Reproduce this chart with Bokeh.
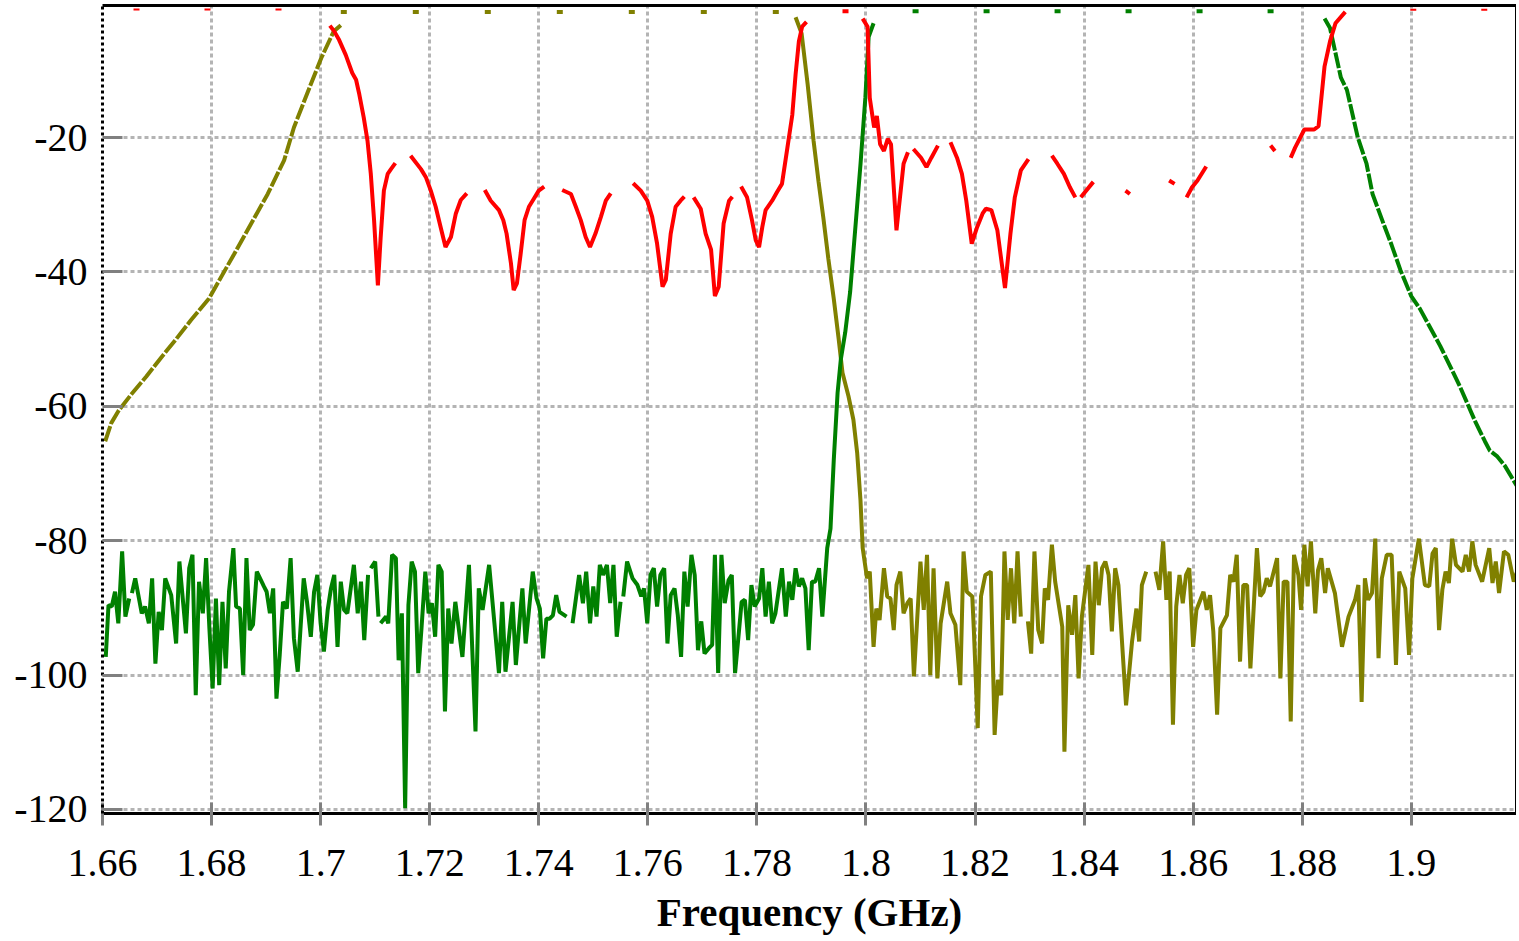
import math
from bokeh.plotting import figure
from bokeh.models import FixedTicker, PrintfTickFormatter, LinearAxis, Range1d
from bokeh.embed import file_html
from bokeh.resources import INLINE

NaN = float("nan")

# ---------------- data (frequency GHz, level dB) ----------------
# S21 (olive): lower skirt rising into its passband
s21_rise = [(1.6605, -65.2), (1.6616, -62.5), (1.6630, -60.6), (1.6652, -58.3), (1.6680, -55.6),
            (1.6707, -52.8), (1.6735, -50.0), (1.6762, -47.2), (1.6795, -44.0), (1.6841, -37.4),
            (1.6903, -28.4), (1.6933, -23.4), (1.6951, -18.5), (1.6977, -13.1), (1.7001, -8.2),
            (1.7024, -4.2), (1.7037, -3.3)]
s21_pass = [(1.7037, -1.3), (1.7871, -1.3)]
s21_stop = [(1.7871, -2.1), (1.7882, -4.5), (1.7893, -12.0), (1.7904, -20.5), (1.7913, -26.5),
            (1.7922, -32.0), (1.7931, -38.0), (1.7941, -44.0), (1.7950, -50.0), (1.7957, -55.0),
            (1.7968, -58.5), (1.7977, -62.0), (1.7984, -67.0), (1.7990, -74.0), (1.7994, -81.1),
            (1.8002, -85.6), (1.8007, -84.6), (1.8014, -95.8), (1.8019, -90.1), (1.8025, -91.8),
            (1.8033, -84.1), (1.8039, -88.3), (1.8045, -88.6), (1.8051, -93.3), (1.8056, -86.6),
            (1.8063, -84.6), (1.8069, -90.8), (1.8076, -89.3), (1.8082, -88.6), (1.8088, -100.2),
            (1.8100, -83.1), (1.8106, -90.3), (1.8112, -82.1), (1.8118, -100.0), (1.8124, -84.1),
            (1.8131, -100.5), (1.8137, -92.3), (1.8149, -86.1), (1.8155, -90.8), (1.8164, -92.5),
            (1.8173, -101.5), (1.8179, -81.6), (1.8185, -87.6), (1.8195, -88.3), (1.8198, -93.5),
            (1.8205, -107.9), (1.8211, -88.3), (1.8219, -85.1), (1.8229, -84.6), (1.8236, -108.9),
            (1.8242, -100.7), (1.8248, -103.0), (1.8254, -81.6), (1.8260, -91.8), (1.8266, -84.1),
            (1.8272, -92.3), (1.8278, -81.6), (1.8284, -91.3), (NaN, NaN), (1.8297, -92.0),
            (1.8303, -96.8), (1.8309, -81.6), (1.8316, -93.3), (1.8323, -95.3), (1.8328, -87.1),
            (1.8334, -88.8), (1.8341, -80.6), (1.8347, -86.1), (1.8360, -92.8), (1.8364, -111.4),
            (1.8371, -89.6), (1.8378, -94.0), (1.8384, -88.1), (1.8390, -100.5), (1.8396, -91.3),
            (1.8408, -83.6), (1.8415, -97.0), (1.8421, -83.1), (1.8427, -89.6), (1.8433, -84.1),
            (1.8439, -83.1), (1.8445, -85.1), (1.8451, -93.5), (1.8457, -84.1), (1.8463, -86.6),
            (1.8477, -104.5), (1.8488, -95.0), (1.8496, -90.1), (1.8501, -95.0), (1.8506, -86.6),
            (1.8514, -84.6), (NaN, NaN), (1.8531, -84.6), (1.8538, -87.3), (1.8545, -80.1),
            (1.8551, -88.8), (1.8557, -84.6), (1.8563, -107.4), (1.8569, -89.8), (1.8575, -85.1),
            (1.8581, -89.3), (1.8587, -85.1), (1.8593, -84.1), (1.8600, -95.8), (1.8606, -90.3),
            (1.8619, -87.6), (1.8625, -90.3), (1.8631, -88.1), (1.8637, -93.5), (1.8644, -105.9),
            (1.8650, -93.0), (1.8662, -91.1), (1.8668, -85.1), (1.8674, -86.1), (1.8680, -82.1),
            (1.8686, -98.0), (1.8692, -86.6), (1.8699, -86.6), (1.8705, -99.0), (1.8717, -81.1),
            (1.8723, -88.3), (1.8729, -87.6), (1.8735, -85.6), (1.8741, -86.8), (1.8754, -82.6),
            (1.8760, -100.5), (1.8766, -86.1), (1.8773, -86.1), (1.8779, -106.9), (1.8785, -82.1),
            (1.8793, -85.1), (1.8798, -90.3), (1.8804, -80.6), (1.8810, -86.8), (1.8816, -80.1),
            (1.8824, -90.8), (1.8829, -84.4), (1.8835, -82.6), (1.8842, -87.8), (1.8847, -84.1),
            (1.8860, -87.8), (1.8873, -95.8), (1.8885, -91.3), (1.8897, -88.8), (1.8903, -86.6),
            (1.8909, -104.0), (1.8915, -85.6), (1.8921, -88.8), (1.8928, -87.8), (1.8934, -79.7),
            (1.8940, -97.5), (1.8946, -85.6), (1.8955, -82.1), (1.8964, -82.1), (1.8972, -98.5),
            (1.8978, -84.6), (1.8989, -87.1), (1.8996, -97.0), (1.9002, -85.6), (1.9014, -79.7),
            (1.9025, -86.6), (1.9033, -86.8), (1.9039, -81.9), (1.9045, -81.1), (1.9051, -93.3),
            (1.9057, -87.3), (1.9063, -84.6), (1.9069, -86.3), (1.9075, -79.7), (1.9082, -83.6),
            (1.9094, -84.6), (1.9100, -82.1), (1.9106, -84.6), (1.9112, -80.1), (1.9118, -83.6),
            (1.9130, -86.1), (1.9143, -81.1), (1.9149, -86.3), (1.9155, -83.1), (1.9161, -87.8),
            (1.9170, -81.6), (1.9178, -82.1), (1.9188, -86.1), (1.9194, -84.6)]

# S31 (green): stopband noise, upper passband, upper skirt
s31_stop = [(1.6606, -97.3), (1.6611, -89.6), (1.6617, -89.8), (1.6623, -87.6), (1.6629, -92.3),
            (1.6636, -81.6), (1.6642, -91.3), (1.6649, -88.6), (NaN, NaN), (1.6654, -87.8),
            (1.6660, -85.6), (1.6672, -90.8), (1.6678, -89.8), (1.6685, -92.3), (1.6691, -85.6),
            (1.6697, -98.3), (1.6703, -90.6), (1.6709, -93.3), (1.6715, -85.6), (1.6726, -88.1),
            (1.6735, -95.3), (1.6741, -83.1), (1.6753, -93.8), (1.6759, -84.1), (1.6765, -82.1),
            (1.6771, -103.0), (1.6777, -86.1), (1.6784, -90.8), (1.6790, -82.6), (1.6796, -93.0),
            (1.6802, -102.0), (1.6808, -88.6), (1.6814, -101.5), (1.6820, -89.1), (1.6826, -99.0),
            (1.6832, -87.6), (1.6840, -81.1), (1.6845, -89.8), (1.6852, -90.1), (1.6858, -100.0),
            (1.6864, -82.6), (1.6870, -93.3), (1.6876, -92.5), (1.6883, -84.6), (1.6896, -86.8),
            (1.6901, -87.6), (1.6907, -90.8), (1.6913, -87.1), (1.6919, -103.5), (1.6925, -97.0),
            (1.6931, -89.1), (1.6938, -90.1), (1.6945, -82.6), (1.6951, -94.5), (1.6958, -99.5),
            (1.6969, -85.6), (1.6975, -89.1), (1.6982, -94.3), (1.6988, -87.6), (1.6994, -85.1),
            (1.7000, -92.3), (1.7006, -96.5), (1.7013, -90.3), (1.7019, -87.1), (1.7025, -85.1),
            (1.7031, -95.8), (1.7037, -86.1), (1.7043, -90.3), (1.7049, -90.8), (1.7061, -83.6),
            (1.7068, -90.8), (1.7074, -86.1), (1.7080, -94.8), (1.7087, -85.1), (NaN, NaN),
            (1.7092, -84.1), (1.7100, -83.1), (1.7106, -91.3), (NaN, NaN), (1.7110, -92.3),
            (1.7120, -91.3), (1.7124, -92.3), (1.7131, -82.1), (1.7138, -82.6), (1.7143, -97.8),
            (1.7149, -90.8), (1.7155, -119.8), (1.7161, -89.6), (1.7167, -83.1), (1.7173, -84.6),
            (1.7179, -99.7), (1.7185, -93.0), (1.7192, -84.6), (1.7198, -90.8), (1.7204, -89.3),
            (1.7210, -94.3), (1.7216, -83.6), (1.7222, -84.6), (1.7228, -105.4), (1.7234, -90.1),
            (1.7240, -95.3), (1.7247, -89.1), (1.7260, -97.3), (1.7272, -83.6), (1.7284, -108.4),
            (1.7290, -87.1), (1.7297, -90.3), (1.7309, -83.6), (1.7327, -99.7), (1.7333, -89.1),
            (1.7339, -99.5), (1.7352, -89.1), (1.7358, -98.5), (1.7370, -87.1), (1.7376, -95.3),
            (1.7389, -84.6), (1.7396, -88.6), (1.7402, -90.1), (1.7408, -97.5), (1.7414, -91.6),
            (1.7420, -91.6), (1.7426, -91.1), (1.7432, -88.1), (1.7438, -90.6), (1.7451, -91.3),
            (NaN, NaN), (1.7462, -92.3), (1.7474, -85.1), (1.7481, -89.3), (1.7487, -84.6),
            (1.7494, -92.3), (1.7500, -86.8), (1.7506, -91.3), (1.7512, -83.6), (1.7518, -85.1),
            (1.7525, -83.6), (1.7531, -89.3), (1.7537, -83.6), (1.7543, -94.3), (1.7550, -89.1),
            (NaN, NaN), (1.7555, -88.3), (1.7562, -83.1), (1.7572, -85.6), (1.7581, -86.6),
            (1.7588, -88.3), (1.7593, -87.1), (1.7599, -92.3), (1.7605, -85.1), (1.7611, -84.1),
            (1.7617, -89.8), (1.7623, -85.1), (1.7630, -84.1), (1.7636, -95.3), (1.7642, -88.1),
            (1.7649, -87.1), (1.7655, -91.1), (1.7661, -97.3), (1.7667, -84.6), (1.7673, -89.8),
            (1.7680, -82.1), (1.7686, -85.1), (1.7692, -96.3), (1.7698, -92.0), (1.7704, -96.8),
            (1.7712, -96.0), (1.7718, -95.5), (1.7723, -82.1), (1.7729, -99.7), (1.7735, -82.1),
            (1.7741, -89.3), (1.7748, -85.9), (1.7754, -85.1), (1.7760, -99.7), (1.7766, -94.5),
            (1.7772, -89.1), (1.7778, -88.8), (1.7784, -94.8), (1.7790, -86.6), (1.7796, -89.8),
            (1.7804, -88.6), (1.7810, -84.1), (1.7816, -91.3), (1.7822, -86.1), (1.7828, -92.3),
            (1.7834, -90.8), (1.7846, -84.1), (1.7853, -91.3), (1.7859, -86.1), (1.7865, -88.8),
            (1.7871, -84.1), (1.7877, -86.8), (1.7883, -85.6), (1.7889, -87.1), (1.7895, -96.3),
            (1.7901, -86.1), (1.7907, -86.1), (1.7914, -84.1), (1.7920, -91.3), (1.7929, -81.1),
            (1.7935, -78.2), (1.7941, -68.0), (1.7948, -58.0), (1.7954, -53.0), (1.7962, -49.0),
            (1.7971, -43.0), (1.7980, -34.0), (1.7990, -24.0), (1.7999, -14.0), (1.8005, -5.0),
            (1.8014, -3.0)]
s31_pass = [(1.8014, -1.2), (1.8841, -1.2)]
s31_fall = [(1.8841, -2.3), (1.8851, -3.7), (1.8871, -11.1), (1.8882, -12.9), (1.8902, -20.0),
            (1.8918, -23.9), (1.8929, -28.4), (1.8949, -32.8), (1.8964, -36.0), (1.8980, -39.7),
            (1.9000, -43.6), (1.9016, -45.5), (1.9053, -51.0), (1.9089, -57.0), (1.9117, -62.2),
            (1.9135, -65.2), (1.9144, -66.6), (1.9157, -67.4), (1.9172, -68.9), (1.9194, -71.9)]

# S11 (red): common-port reflection
s11_band = [(1.7017, -3.35), (1.7025, -4.2), (1.7034, -5.5), (1.7046, -7.7), (1.7058, -10.4),
            (1.7065, -11.4), (1.7071, -13.6), (1.7079, -17.0), (1.7086, -20.5), (1.7092, -25.4),
            (1.7098, -32.3), (1.7105, -42.0), (1.7110, -35.0), (1.7116, -27.9), (1.7123, -25.4),
            (1.7129, -24.7), (1.7137, -23.8), (NaN, NaN),
            (1.7165, -22.7), (1.7184, -24.7), (1.7193, -25.9), (1.7202, -27.9), (1.7211, -30.3),
            (1.7220, -33.3), (1.7229, -36.3), (1.7239, -34.8), (1.7248, -31.3), (1.7257, -29.3),
            (1.7268, -28.3), (NaN, NaN),
            (1.7301, -27.8), (1.7312, -29.4), (1.7327, -30.8), (1.7335, -32.3), (1.7341, -34.3),
            (1.7349, -38.7), (1.7354, -42.7), (1.7360, -41.7), (1.7367, -37.2), (1.7374, -32.3),
            (1.7382, -30.3), (1.7391, -29.1), (1.7400, -27.9), (1.7410, -27.3), (NaN, NaN),
            (1.7443, -27.8), (1.7459, -28.4), (1.7468, -30.3), (1.7477, -32.3), (1.7486, -34.8),
            (1.7494, -36.3), (1.7504, -34.3), (1.7514, -31.8), (1.7523, -29.4), (1.7532, -28.3),
            (NaN, NaN),
            (1.7573, -26.8), (1.7587, -27.9), (1.7599, -29.4), (1.7608, -31.8), (1.7617, -35.8),
            (1.7627, -42.2), (1.7633, -41.2), (1.7642, -34.3), (1.7651, -30.3), (1.7660, -29.4),
            (1.7667, -28.8), (NaN, NaN),
            (1.7684, -28.9), (1.7697, -30.6), (1.7706, -34.3), (1.7716, -36.7), (1.7723, -43.6),
            (1.7730, -42.2), (1.7739, -32.8), (1.7749, -29.4), (1.7755, -28.8), (NaN, NaN),
            (1.7771, -27.3), (1.7782, -28.9), (1.7791, -32.3), (1.7798, -35.3), (1.7804, -36.3),
            (1.7810, -33.3), (1.7816, -30.8), (1.7828, -29.4), (1.7837, -28.1), (1.7846, -26.9),
            (1.7856, -21.5), (1.7865, -16.6), (1.7871, -10.6), (1.7877, -5.7), (1.7883, -3.5),
            (1.7891, -2.8), (NaN, NaN),
            (1.7994, -2.3), (1.8003, -3.5), (1.8007, -14.1), (1.8015, -18.5), (1.8020, -16.8),
            (1.8026, -21.0), (1.8033, -22.0), (1.8040, -20.2), (1.8046, -21.0), (1.8056, -33.8),
            (1.8069, -23.9), (1.8077, -22.2), (NaN, NaN),
            (1.8087, -21.7), (1.8101, -23.0), (1.8111, -24.4), (1.8120, -23.0), (1.8132, -21.2),
            (NaN, NaN),
            (1.8155, -20.7), (1.8167, -23.0), (1.8176, -25.4), (1.8184, -29.4), (1.8194, -35.8),
            (1.8204, -33.3), (1.8214, -31.3), (1.8220, -30.6), (1.8230, -30.8), (1.8241, -33.8),
            (1.8255, -42.4), (1.8265, -34.3), (1.8273, -28.9), (1.8284, -24.9), (1.8298, -23.2),
            (NaN, NaN),
            (1.8341, -22.7), (1.8351, -23.9), (1.8363, -25.4), (1.8374, -27.4), (1.8384, -28.9),
            (NaN, NaN), (1.8394, -28.9), (1.8417, -26.6), (NaN, NaN),
            (1.8476, -27.9), (1.8484, -28.4), (NaN, NaN),
            (1.8556, -26.4), (1.8566, -26.9), (NaN, NaN),
            (1.8588, -28.9), (1.8598, -27.4), (1.8608, -26.4), (1.8624, -24.3), (NaN, NaN),
            (1.8742, -21.2), (1.8750, -22.0), (NaN, NaN),
            (1.8779, -23.0), (1.8787, -21.5), (1.8804, -18.8), (1.8822, -18.8), (1.8830, -18.3),
            (1.8841, -9.4), (1.8851, -5.7), (1.8861, -3.0), (1.8879, -1.3)]
s11_top_left = [(1.6600, -0.95), (1.7017, -0.95)]
s11_top_mid = [(1.7891, -1.2), (1.7994, -1.2)]
s11_top_right = [(1.8879, -1.0), (1.9194, -1.0)]

x_ticks = [1.66, 1.68, 1.70, 1.72, 1.74, 1.76, 1.78, 1.80, 1.82, 1.84, 1.86, 1.88, 1.90]
y_ticks = [-120, -100, -80, -60, -40, -20]

OLIVE = "#808000"
GREEN = "#008000"
RED = "#ff0000"


def xs(pts):
    return [a for a, b in pts]


def ys(pts):
    return [b for a, b in pts]


p = figure(frame_width=1414, frame_height=808,
           x_range=Range1d(1.66, 1.9193), y_range=Range1d(-120.6, -0.35),
           output_backend="svg", toolbar_location=None,
           min_border_left=102, min_border_right=0, min_border_top=5, min_border_bottom=0,
           background_fill_color="white", border_fill_color="white")
p.outline_line_color = None

FONT = "Liberation Serif"

# axes
for ax in (p.xaxis[0], p.yaxis[0]):
    ax.major_label_text_font = FONT
    ax.major_label_text_font_size = "40px"
    ax.major_label_text_color = "black"
    ax.major_tick_line_color = "#808080"
    ax.major_tick_line_width = 3
    ax.minor_tick_line_color = None
    ax.formatter = PrintfTickFormatter(format="%g")
    ax.axis_line_color = "black"
    ax.axis_line_width = 3

p.xaxis.ticker = FixedTicker(ticks=x_ticks)
p.yaxis.ticker = FixedTicker(ticks=y_ticks)
p.xaxis.major_tick_in = 11
p.xaxis.major_tick_out = 12
p.xaxis.major_label_standoff = 24
p.xaxis.axis_label = "Frequency (GHz)"
p.xaxis.axis_label_text_font = FONT
p.xaxis.axis_label_text_font_style = "bold"
p.xaxis.axis_label_text_font_size = "41px"
p.xaxis.axis_label_text_color = "black"
p.xaxis.axis_label_standoff = 10

p.yaxis.major_tick_in = 20
p.yaxis.major_tick_out = 0
p.yaxis.major_label_standoff = 15
p.yaxis.axis_line_dash = "3 3"

for loc in ("above", "right"):
    ax = LinearAxis(ticker=FixedTicker(ticks=[]), major_label_text_font_size="0px",
                    axis_line_color="black", axis_line_width=3,
                    major_tick_line_color=None, minor_tick_line_color=None,
                    major_label_standoff=0, axis_label_standoff=0)
    p.add_layout(ax, loc)

# grid
for g in (p.xgrid[0], p.ygrid[0]):
    g.grid_line_color = "#b4b4b4"
    g.grid_line_width = 3
    g.grid_line_dash = "4 3"
p.xgrid.ticker = FixedTicker(ticks=x_ticks)
p.ygrid.ticker = FixedTicker(ticks=y_ticks)

LW = 4
# S21 olive
p.line(xs(s21_rise), ys(s21_rise), line_color=OLIVE, line_width=LW, line_dash="16 2")
p.line(xs(s21_pass), ys(s21_pass), line_color=OLIVE, line_width=LW, line_dash="6 66")
p.line(xs(s21_stop), ys(s21_stop), line_color=OLIVE, line_width=LW)
# S31 green
p.line(xs(s31_stop), ys(s31_stop), line_color=GREEN, line_width=LW)
p.line(xs(s31_pass), ys(s31_pass), line_color=GREEN, line_width=LW, line_dash="6 65", line_dash_offset=32)
p.line(xs(s31_fall), ys(s31_fall), line_color=GREEN, line_width=LW, line_dash="16 2")
# S11 red
p.line(xs(s11_band), ys(s11_band), line_color=RED, line_width=LW)
p.line(xs(s11_top_left), ys(s11_top_left), line_color=RED, line_width=2, line_dash="6 65", line_dash_offset=40)
p.line(xs(s11_top_mid), ys(s11_top_mid), line_color=RED, line_width=LW, line_dash="6 65", line_dash_offset=35)
p.line(xs(s11_top_right), ys(s11_top_right), line_color=RED, line_width=2, line_dash="6 65", line_dash_offset=6)

open("out.html", "w").write(file_html(p, INLINE))
